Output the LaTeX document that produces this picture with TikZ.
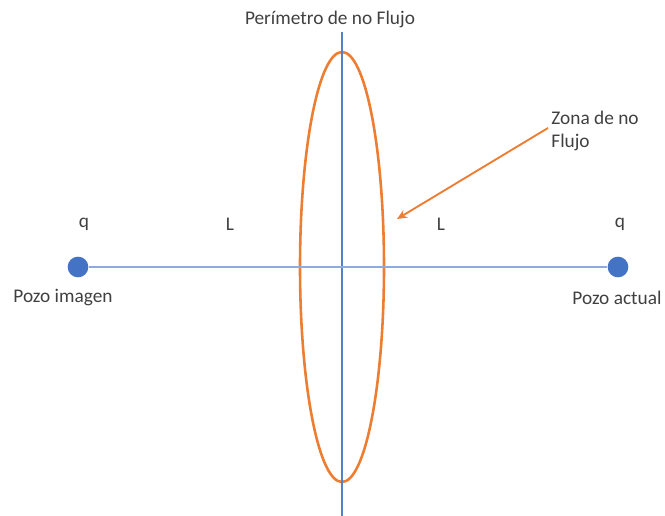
\documentclass[tikz,border=0pt]{standalone}
\usepackage{fontspec}
\setmainfont{Carlito}
\usetikzlibrary{shapes.geometric,arrows.meta,positioning}

\definecolor{pozoblue}{RGB}{68,114,196}
\definecolor{lineblue}{RGB}{143,170,220}
\definecolor{zonaorange}{RGB}{237,125,49}
\definecolor{textgray}{RGB}{64,64,64}

\begin{document}
\begin{tikzpicture}[x=0.03cm, y=-0.03cm,
    pozo/.style={circle, fill=pozoblue, minimum size=0.62cm, inner sep=0pt},
    label/.style={font=\fontsize{16.5}{19.5}\selectfont, text=textgray, inner sep=1pt},
    arrow/.style={-{Stealth[length=3mm, width=2.6mm]}, draw=zonaorange, fill=zonaorange, line width=1.6pt}
]
\useasboundingbox (0,0) rectangle (665,516);

% Title
\node at (330,19) [label] (titulo) {Perímetro de no Flujo};

% Perimeter line and zone
\coordinate (top) at (342,32);
\coordinate (bottom) at (342,516);
\node at (342,267) [ellipse, draw=zonaorange, line width=2.2pt, minimum width=2.52cm, minimum height=12.9cm, inner sep=0pt] (zona) {};
\draw [pozoblue!90, line width=2.2pt] (top) -- (bottom);

% Wells
\node at (78,267) [pozo] (imagen) {};
\node at (618,267) [pozo] (actual) {};
\draw [lineblue, line width=1pt] (imagen) -- (actual);

% Labels
\node at (84,224) [label] (qimagen) {q};
\node at (620,224) [label] (qactual) {q};
\node at (230,224) [label] (limagen) {L};
\node at (441,224) [label] (lactual) {L};
\node at (63,298) [label] (nimagen) {Pozo imagen};
\node at (617,298) [label] (nactual) {Pozo actual};

% Zona de no Flujo
\node at (550,131) [label, anchor=west, align=left] (nzona) {Zona de no\\Flujo};
\coordinate (punta) at (397,219);
\draw [arrow] (nzona.west) ++(-2,-3) -- (punta);

\end{tikzpicture}
\end{document}
